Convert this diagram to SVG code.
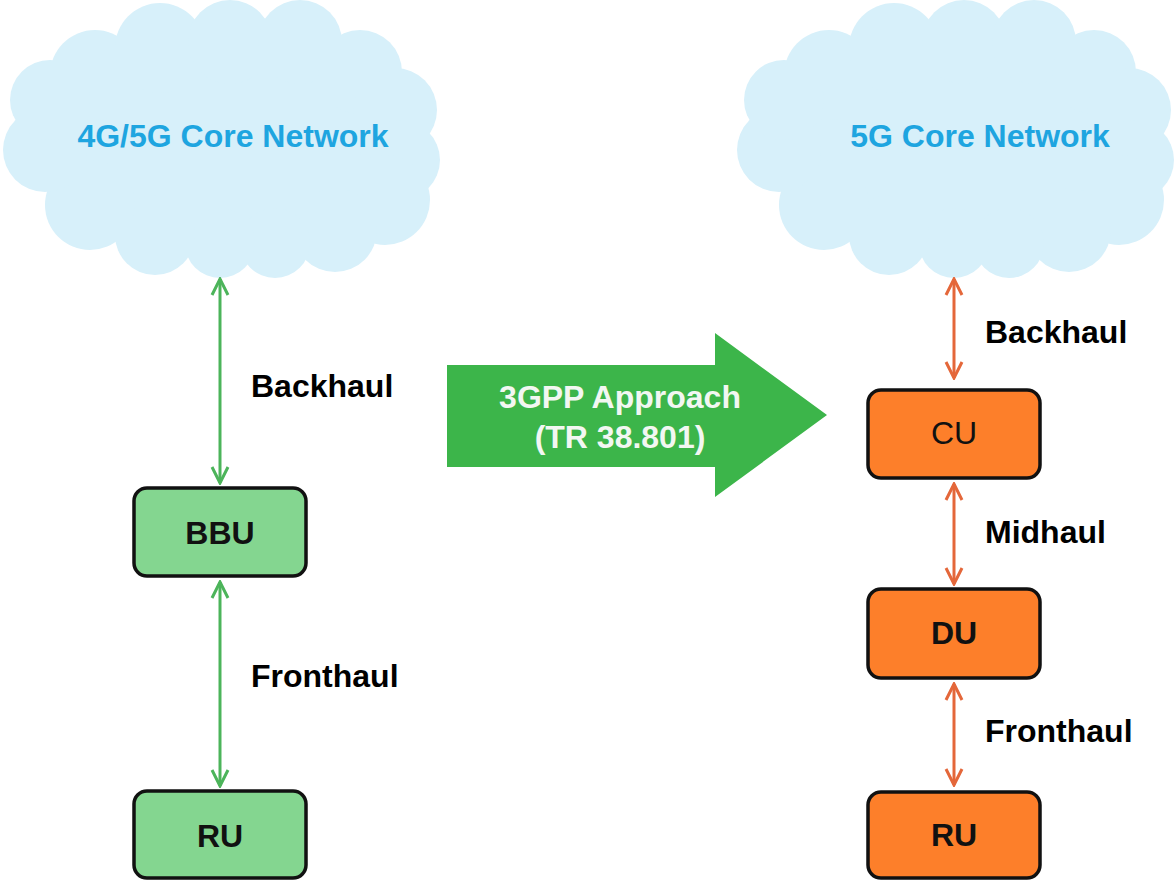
<svg xmlns="http://www.w3.org/2000/svg" width="1174" height="881" viewBox="0 0 1174 881">
<defs>
<style>
.cloud{fill:#d7f0fa}
.ctext{font-family:"Liberation Sans",Arial,sans-serif;font-weight:bold;font-size:32px;fill:#1ea5e0}
.lbl{font-family:"Liberation Sans",Arial,sans-serif;font-weight:bold;font-size:32px;fill:#000}
.ntext{font-family:"Liberation Sans",Arial,sans-serif;font-weight:bold;font-size:32px;fill:#111;text-anchor:middle}
.gbox{fill:#84d690;stroke:#111;stroke-width:3.5}
.obox{fill:#fd7f2a;stroke:#111;stroke-width:3.5}
.gl{stroke:#4cb45a;stroke-width:3;fill:none}
.ol{stroke:#e4673a;stroke-width:3;fill:none}
.btext{font-family:"Liberation Sans",Arial,sans-serif;font-weight:bold;font-size:32px;fill:#f2f7f2;text-anchor:middle}
</style>
<marker id="ag" viewBox="0 0 20 20" refX="18" refY="10" markerWidth="20" markerHeight="20" markerUnits="userSpaceOnUse" orient="auto-start-reverse">
<path d="M2,2 L18,10 L2,18" fill="none" stroke="#4cb45a" stroke-width="3"/>
</marker>
<marker id="ao" viewBox="0 0 20 20" refX="18" refY="10" markerWidth="20" markerHeight="20" markerUnits="userSpaceOnUse" orient="auto-start-reverse">
<path d="M2,2 L18,10 L2,18" fill="none" stroke="#e4673a" stroke-width="3"/>
</marker>
<g id="cloudshape">
<ellipse cx="220" cy="140" rx="190" ry="108"/>
<circle cx="95" cy="75" r="45"/>
<circle cx="160" cy="48" r="45"/>
<circle cx="230" cy="42" r="42"/>
<circle cx="300" cy="42" r="42"/>
<circle cx="360" cy="72" r="42"/>
<circle cx="395" cy="110" r="42"/>
<circle cx="400" cy="160" r="40"/>
<circle cx="385" cy="200" r="45"/>
<circle cx="335" cy="230" r="42"/>
<circle cx="275" cy="243" r="35"/>
<circle cx="220" cy="243" r="35"/>
<circle cx="155" cy="235" r="40"/>
<circle cx="90" cy="205" r="45"/>
<circle cx="45" cy="150" r="42"/>
<circle cx="50" cy="100" r="40"/>
</g>
</defs>
<rect width="1174" height="881" fill="#fff"/>

<g id="core-left">
<use href="#cloudshape" class="cloud"/>
<text class="ctext" x="233" y="147" text-anchor="middle">4G/5G Core Network</text>
</g>
<g id="core-right">
<use href="#cloudshape" class="cloud" transform="translate(734,0)"/>
<text class="ctext" x="980" y="147" text-anchor="middle">5G Core Network</text>
</g>

<g id="approach">
<polygon points="447,365 715,365 715,333 827,415 715,497 715,467 447,467" fill="#3cb54a"/>
<text class="btext" x="620" y="408">3GPP Approach</text>
<text class="btext" x="620" y="448">(TR 38.801)</text>
</g>

<g id="connectors">
<line class="gl" x1="220" y1="279" x2="220" y2="483" marker-start="url(#ag)" marker-end="url(#ag)"/>
<line class="gl" x1="220" y1="582" x2="220" y2="786" marker-start="url(#ag)" marker-end="url(#ag)"/>
<line class="ol" x1="954" y1="279" x2="954" y2="378" marker-start="url(#ao)" marker-end="url(#ao)"/>
<line class="ol" x1="954" y1="484" x2="954" y2="584" marker-start="url(#ao)" marker-end="url(#ao)"/>
<line class="ol" x1="954" y1="684" x2="954" y2="785" marker-start="url(#ao)" marker-end="url(#ao)"/>
<text class="lbl" x="251" y="397">Backhaul</text>
<text class="lbl" x="251" y="687">Fronthaul</text>
<text class="lbl" x="985" y="343">Backhaul</text>
<text class="lbl" x="985" y="543">Midhaul</text>
<text class="lbl" x="985" y="742">Fronthaul</text>
</g>

<g id="bbu">
<rect class="gbox" x="134" y="488" width="172" height="88" rx="13"/>
<text class="ntext" x="220" y="544">BBU</text>
</g>
<g id="ru-left">
<rect class="gbox" x="134" y="791" width="172" height="87" rx="13"/>
<text class="ntext" x="220" y="847">RU</text>
</g>
<g id="cu">
<rect class="obox" x="868" y="390" width="172" height="88" rx="13"/>
<text class="ntext" x="954" y="444" style="font-weight:normal">CU</text>
</g>
<g id="du">
<rect class="obox" x="868" y="589" width="172" height="89" rx="13"/>
<text class="ntext" x="954" y="644">DU</text>
</g>
<g id="ru-right">
<rect class="obox" x="868" y="792" width="172" height="86" rx="13"/>
<text class="ntext" x="954" y="846">RU</text>
</g>
</svg>
